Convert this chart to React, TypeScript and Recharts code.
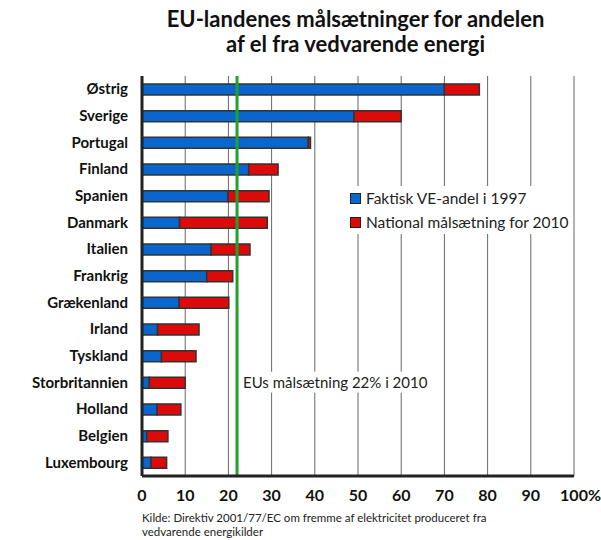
import React from 'react';
import { BarChart, Bar, XAxis, YAxis, CartesianGrid, ReferenceLine } from 'recharts';

const countries = ['Østrig', 'Sverige', 'Portugal', 'Finland', 'Spanien', 'Danmark', 'Italien', 'Frankrig', 'Grækenland', 'Irland', 'Tyskland', 'Storbritannien', 'Holland', 'Belgien', 'Luxembourg'];
const actual1997 = [70, 49.1, 38.5, 24.7, 19.9, 8.7, 16, 15, 8.6, 3.6, 4.5, 1.7, 3.5, 1.1, 2.1];
const target2010 = [78.1, 60, 39, 31.5, 29.4, 29, 25, 21, 20.1, 13.2, 12.5, 10, 9, 6, 5.7];
const xTicks = [0, 10, 20, 30, 40, 50, 60, 70, 80, 90, 100];
const euTarget = 22;
const euLabelCategory = 'Storbritannien';
const legendLabels = ['Faktisk VE-andel i 1997', 'National målsætning for 2010'];

const BLUE = '#0866CC';
const RED = '#DD0A0A';
const GREEN = '#1FA32A';
const FONT = 'Lato, "Open Sans", sans-serif';

const data = countries.map((c, i) => ({
  country: c,
  actual: actual1997[i],
  extra: Math.max(0, +(target2010[i] - actual1997[i]).toFixed(2)),
}));

const XTick = (props: any) => {
  const { x, y, payload } = props;
  const v = payload.value;
  return (
    <g>
      <text x={x} y={y + 17} textAnchor="middle" fontFamily={FONT} fontWeight={700} fontSize={16} fill="#111">
        {v}
      </text>
      {v === 100 && (
        <text x={x + 14} y={y + 17} textAnchor="start" fontFamily={FONT} fontWeight={700} fontSize={16} fill="#111">
          %
        </text>
      )}
    </g>
  );
};

const YTick = (props: any) => {
  const { x, y, payload } = props;
  return (
    <text x={x - 6} y={y + 5} textAnchor="end" fontFamily={FONT} fontWeight={700} fontSize={15} fill="#111">
      {payload.value}
    </text>
  );
};

const EuLabel = (props: any) => {
  const { viewBox } = props;
  if (!viewBox) return null;
  const idx = countries.indexOf(euLabelCategory);
  const cy = viewBox.y + (viewBox.height * (idx + 0.5)) / countries.length;
  const tx = viewBox.x + 6;
  const text = 'EUs målsætning 22% i 2010';
  return (
    <g>
      <rect x={tx - 1} y={cy - 11} width={190} height={21} fill="#fff" />
      <text x={tx} y={cy + 5} fontFamily={FONT} fontSize={15} fill="#222">
        {text}
      </text>
    </g>
  );
};

export default function App() {
  const legendColors = [BLUE, RED];
  return (
    <div style={{ position: 'absolute', left: 0, top: 0, width: 601, height: 540, background: '#fff' }}>
      <div style={{ position: 'absolute', left: 0, top: 6, width: 601, textAlign: 'center', fontFamily: FONT, fontWeight: 700, fontSize: 22, lineHeight: '25px', color: '#111', paddingLeft: 110, boxSizing: 'border-box' }}>
        <div>EU-landenes målsætninger for andelen</div>
        <div>af el fra vedvarende energi</div>
      </div>
      <BarChart
        width={601}
        height={540}
        data={data}
        layout="vertical"
        margin={{ top: 76, right: 27, bottom: 34, left: 0 }}
        barCategoryGap={0}
        style={{ position: 'absolute', left: 0, top: 0 }}
      >
        <CartesianGrid horizontal={false} vertical stroke="#666" strokeWidth={1} />
        <XAxis
          type="number"
          domain={[0, 100]}
          ticks={xTicks}
          interval={0}
          height={30}
          axisLine={{ stroke: '#222', strokeWidth: 3 }}
          tickLine={false}
          tick={<XTick />}
        />
        <YAxis
          type="category"
          dataKey="country"
          width={142}
          axisLine={{ stroke: '#222', strokeWidth: 3 }}
          tickLine={false}
          tick={<YTick />}
          interval={0}
        />
        <Bar dataKey="actual" stackId="a" fill={BLUE} stroke="#333" strokeWidth={1.5} barSize={11} isAnimationActive={false} />
        <Bar dataKey="extra" stackId="a" fill={RED} stroke="#333" strokeWidth={1.5} barSize={11} isAnimationActive={false} />
        <ReferenceLine x={euTarget} stroke={GREEN} strokeWidth={3} label={<EuLabel />} />
      </BarChart>
      <div style={{ position: 'absolute', left: 142, top: 511, fontFamily: FONT, fontSize: 11.5, lineHeight: '14px', color: '#222' }}>
        <div>Kilde: Direktiv 2001/77/EC om fremme af elektricitet produceret fra</div>
        <div>vedvarende energikilder</div>
      </div>
      <div style={{ position: 'absolute', left: 350, top: 186, fontFamily: FONT, fontSize: 15.5, color: '#222', background: '#fff', paddingRight: 4 }}>
        {legendLabels.map((label, i) => (
          <div key={label} style={{ display: 'flex', alignItems: 'center', height: 24 }}>
            <span style={{ display: 'inline-block', width: 9, height: 9, background: legendColors[i], border: '1px solid #222', marginRight: 5 }} />
            <span>{label}</span>
          </div>
        ))}
      </div>
    </div>
  );
}
